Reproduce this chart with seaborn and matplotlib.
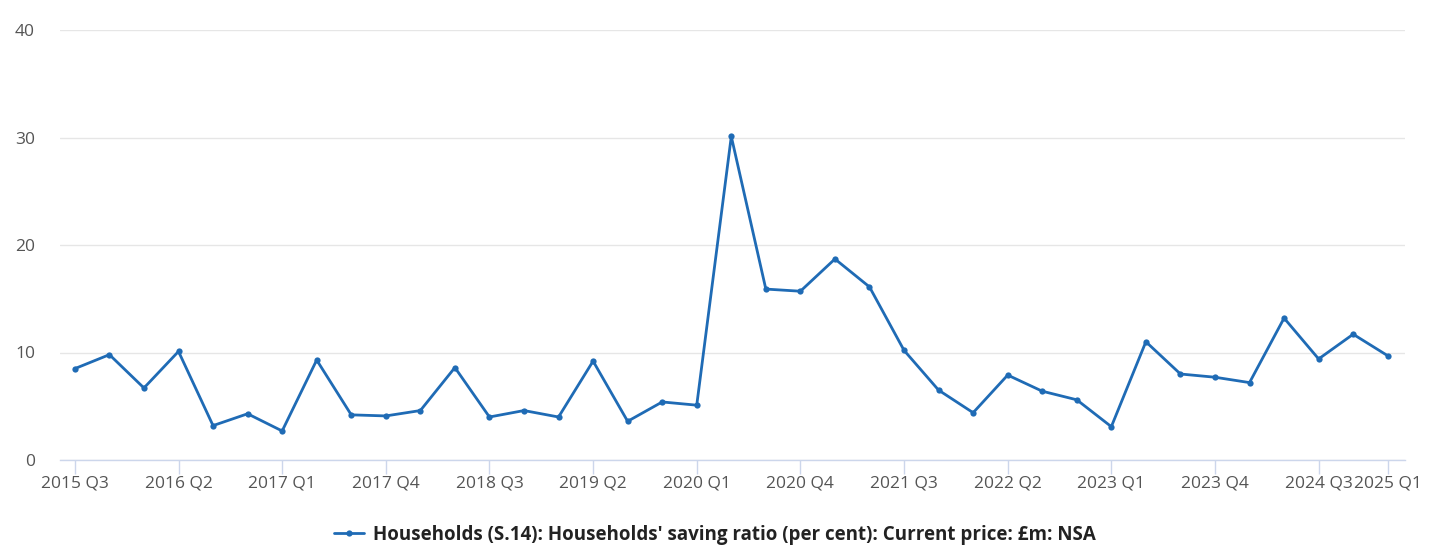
import matplotlib
matplotlib.use("Agg")
import matplotlib.pyplot as plt
import seaborn as sns
import pandas as pd

quarters = ["2015 Q3","2015 Q4","2016 Q1","2016 Q2","2016 Q3","2016 Q4","2017 Q1","2017 Q2","2017 Q3","2017 Q4",
            "2018 Q1","2018 Q2","2018 Q3","2018 Q4","2019 Q1","2019 Q2","2019 Q3","2019 Q4","2020 Q1","2020 Q2",
            "2020 Q3","2020 Q4","2021 Q1","2021 Q2","2021 Q3","2021 Q4","2022 Q1","2022 Q2","2022 Q3","2022 Q4",
            "2023 Q1","2023 Q2","2023 Q3","2023 Q4","2024 Q1","2024 Q2","2024 Q3","2024 Q4","2025 Q1"]
saving_ratio = [8.5, 9.8, 6.7, 10.1, 3.2, 4.3, 2.7, 9.3, 4.2, 4.1,
                4.6, 8.6, 4.0, 4.6, 4.0, 9.2, 3.6, 5.4, 5.1, 30.1,
                15.9, 15.7, 18.7, 16.1, 10.2, 6.5, 4.4, 7.9, 6.4, 5.6,
                3.1, 11.0, 8.0, 7.7, 7.2, 13.2, 9.4, 11.7, 9.7]
tick_labels = ["2015 Q3","2016 Q2","2017 Q1","2017 Q4","2018 Q3","2019 Q2","2020 Q1","2020 Q4",
               "2021 Q3","2022 Q2","2023 Q1","2023 Q4","2024 Q3","2025 Q1"]
y_ticks = [0, 10, 20, 30, 40]
series_name = "Households (S.14): Households' saving ratio (per cent): Current price: £m: NSA"

sns.set_theme(style="white")
plt.rcParams['font.family'] = ['Open Sans', 'DejaVu Sans']

df = pd.DataFrame({"idx": range(len(quarters)), "quarter": quarters, "value": saving_ratio})

fig = plt.figure(figsize=(14.56, 5.6), dpi=100)
ax = fig.add_axes([60/1456, 100/560, (1405-60)/1456, (460-30)/560])

line_color = "#1f6bb5"
sns.lineplot(data=df, x="idx", y="value", ax=ax, color=line_color, linewidth=2.0,
             marker="o", markersize=4.5, markeredgewidth=0, label=series_name, legend=False)

ax.set_ylim(0, 40)
ax.set_xlim(-0.43, len(quarters) - 1 + 0.5)
ax.set_yticks(y_ticks)
ax.set_yticklabels([str(v) for v in y_ticks])
tick_pos = [quarters.index(t) for t in tick_labels]
ax.set_xticks(tick_pos)
ax.set_xticklabels(tick_labels)

ax.grid(axis="y", color="#e6e6e6", linewidth=1)
ax.grid(axis="x", visible=False)
for s in ["top", "right", "left"]:
    ax.spines[s].set_visible(False)
ax.spines["bottom"].set_color("#ccd6eb")
ax.spines["bottom"].set_linewidth(1)
ax.tick_params(axis="x", length=10, width=1, color="#ccd6eb", labelsize=12.5, labelcolor="#555555", pad=1, bottom=True)
ax.tick_params(axis="y", length=0, labelsize=12.5, labelcolor="#555555", pad=18)
ax.set_xlabel("")
ax.set_ylabel("")

handles, labels = ax.get_legend_handles_labels()
leg = fig.legend(handles, labels, loc="center", bbox_to_anchor=(0.491, 1 - 535/560), frameon=False,
                 prop={"weight": "bold", "size": 13.5}, handlelength=1.6, handletextpad=0.5)
for t in leg.get_texts():
    t.set_color("#222222")

fig.savefig("out.png", dpi=100, facecolor="white")
